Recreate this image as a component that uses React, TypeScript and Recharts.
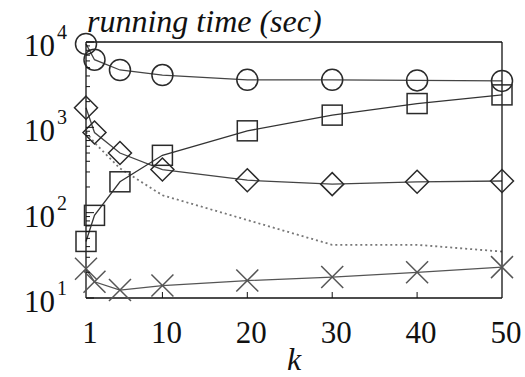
import React from 'react';
import { LineChart, Line, XAxis, YAxis, Label } from 'recharts';

// k values on the x axis
const kValues = [1, 2, 5, 10, 20, 30, 40, 50];

// running time (sec) per method
const circleTimes = [9500, 6200, 4700, 4100, 3600, 3600, 3550, 3500];
const squareTimes = [46, 93, 230, 470, 910, 1390, 1900, 2400];
const diamondTimes = [1700, 870, 500, 320, 240, 216, 230, 235];
const dottedTimes = [880, 660, 330, 160, 82, 42, 42, 35];
const crossTimes = [22, 15.5, 12.4, 14, 16, 17.6, 20, 23];

const xTickLabels = [1, 10, 20, 30, 40, 50];
const xInnerTicks = [10, 20, 30, 40];
const yMajorTicks = [10, 100, 1000, 10000];
const yAllTicks = [
  10, 20, 30, 40, 50, 60, 70, 80, 90,
  100, 200, 300, 400, 500, 600, 700, 800, 900,
  1000, 2000, 3000, 4000, 5000, 6000, 7000, 8000, 9000,
  10000,
];

const data = kValues.map((k, i) => ({
  k,
  circle: circleTimes[i],
  square: squareTimes[i],
  diamond: diamondTimes[i],
  dotted: dottedTimes[i],
  cross: crossTimes[i],
}));

const FONT =
  '"Liberation Serif", LiberationSerif, Tinos, "Times New Roman", Times, "Nimbus Roman", FreeSerif, "Noto Serif", "DejaVu Serif", DejaVuSerif, serif';
const INK = '#111';
const serif = { fontFamily: FONT };

const LeftTick = (props: any) => {
  const { x, y, payload } = props;
  const major = yMajorTicks.includes(payload.value);
  const exp = Math.round(Math.log10(payload.value));
  return (
    <g>
      <line x1={x} y1={y} x2={x + (major ? 8 : 4)} y2={y} stroke={INK} strokeWidth={1} />
      {major && (
        <text x={x - 19} y={y + 14} textAnchor="end" style={serif} fontSize={31} fill={INK}>
          10
          <tspan dx={2} dy={-17} fontSize={20}>{exp}</tspan>
        </text>
      )}
    </g>
  );
};

const RightTick = (props: any) => {
  const { x, y, payload } = props;
  const major = yMajorTicks.includes(payload.value);
  return <line x1={x} y1={y} x2={x - (major ? 8 : 5)} y2={y} stroke={INK} strokeWidth={1} />;
};

const BottomTick = (props: any) => {
  const { x, y, payload } = props;
  return (
    <g>
      {xInnerTicks.includes(payload.value) && (
        <line x1={x} y1={y} x2={x} y2={y - 6} stroke={INK} strokeWidth={1} />
      )}
      <text x={x + 4} y={y + 45} textAnchor="middle" style={serif} fontSize={31} fill={INK}>
        {payload.value}
      </text>
    </g>
  );
};

const TopTick = (props: any) => {
  const { x, y } = props;
  return <line x1={x} y1={y} x2={x} y2={y + 6} stroke={INK} strokeWidth={1} />;
};

const marker = (shape: string) => (props: any) => {
  const { cx, cy, index } = props;
  const key = `${shape}-${index}`;
  const stroke = '#2a2a2a';
  if (shape === 'circle')
    return <circle key={key} cx={cx} cy={cy} r={10.5} fill="none" stroke={stroke} strokeWidth={1.5} />;
  if (shape === 'square')
    return <rect key={key} x={cx - 10} y={cy - 10} width={20} height={20} fill="none" stroke={stroke} strokeWidth={1.5} />;
  if (shape === 'diamond')
    return (
      <polygon
        key={key}
        points={`${cx},${cy - 11.5} ${cx + 11.5},${cy} ${cx},${cy + 11.5} ${cx - 11.5},${cy}`}
        fill="none"
        stroke={stroke}
        strokeWidth={1.5}
      />
    );
  return (
    <g key={key} stroke="#555" strokeWidth={1.5}>
      <line x1={cx - 11} y1={cy - 11} x2={cx + 11} y2={cy + 11} />
      <line x1={cx - 11} y1={cy + 11} x2={cx + 11} y2={cy - 11} />
    </g>
  );
};

export default function App() {
  return (
    <div style={{ position: 'absolute', left: 0, top: 0, background: '#fff', fontFamily: FONT }}>
      <LineChart width={525} height={377} data={data} margin={{ top: 42, right: 23, left: 0, bottom: 0 }}>
        <XAxis
          xAxisId="x"
          dataKey="k"
          type="number"
          domain={[1, 50]}
          ticks={xTickLabels}
          interval={0}
          height={79}
          tickSize={0}
          tickMargin={0}
          tickLine={false}
          axisLine={{ stroke: INK, strokeWidth: 1.3 }}
          tick={BottomTick}
        >
          <Label
            content={(p: any) => (
              <text
                x={p.viewBox.x + p.viewBox.width / 2}
                y={p.viewBox.y + 72}
                textAnchor="middle"
                style={serif}
                fontStyle="italic"
                fontSize={32}
                fill={INK}
              >
                k
              </text>
            )}
          />
        </XAxis>
        <XAxis
          xAxisId="top"
          orientation="top"
          mirror
          type="number"
          domain={[1, 50]}
          ticks={xInnerTicks}
          interval={0}
          tickSize={0}
          tickMargin={0}
          tickLine={false}
          axisLine={{ stroke: INK, strokeWidth: 1.3 }}
          tick={TopTick}
        />
        <YAxis
          yAxisId="y"
          scale="log"
          domain={[10, 10000]}
          ticks={yAllTicks}
          interval={0}
          width={86}
          tickSize={0}
          tickMargin={0}
          tickLine={false}
          axisLine={{ stroke: INK, strokeWidth: 1.3 }}
          tick={LeftTick}
        >
          <Label
            content={(p: any) => (
              <text
                x={p.viewBox.x + p.viewBox.width + 1}
                y={p.viewBox.y - 10}
                style={serif}
                fontStyle="italic"
                fontSize={32}
                fill={INK}
              >
                running time (sec)
              </text>
            )}
          />
        </YAxis>
        <YAxis
          yAxisId="right"
          orientation="right"
          mirror
          scale="log"
          domain={[10, 10000]}
          ticks={yAllTicks}
          interval={0}
          tickSize={0}
          tickMargin={0}
          tickLine={false}
          axisLine={{ stroke: INK, strokeWidth: 1.3 }}
          tick={RightTick}
        />
        <Line xAxisId="x" yAxisId="y" type="linear" dataKey="dotted" stroke="#777" strokeWidth={1.8} strokeDasharray="2 3" dot={false} isAnimationActive={false} />
        <Line xAxisId="x" yAxisId="y" type="linear" dataKey="cross" stroke="#555" strokeWidth={1.3} dot={marker('cross')} isAnimationActive={false} />
        <Line xAxisId="x" yAxisId="y" type="linear" dataKey="diamond" stroke="#444" strokeWidth={1.3} dot={marker('diamond')} isAnimationActive={false} />
        <Line xAxisId="x" yAxisId="y" type="linear" dataKey="square" stroke="#333" strokeWidth={1.3} dot={marker('square')} isAnimationActive={false} />
        <Line xAxisId="x" yAxisId="y" type="linear" dataKey="circle" stroke="#444" strokeWidth={1.3} dot={marker('circle')} isAnimationActive={false} />
      </LineChart>
    </div>
  );
}
